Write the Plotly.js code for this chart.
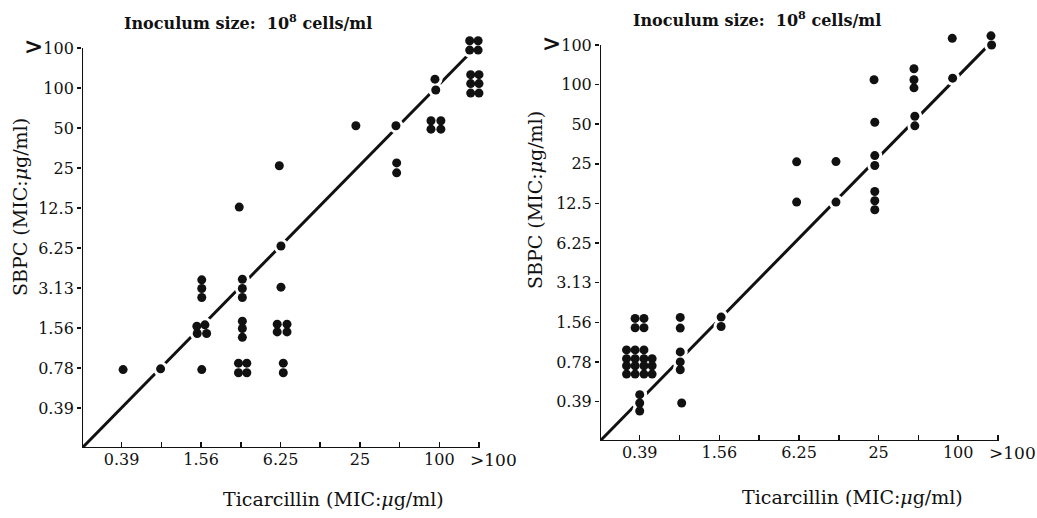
<!DOCTYPE html>
<html>
<head>
<meta charset="utf-8">
<script src="https://cdn.plot.ly/plotly-3.0.1.min.js"></script>
<style>html,body{margin:0;padding:0;background:#fff;}#chart{width:1037px;height:518px;}</style>
</head>
<body>
<div id="chart"></div>
<script>
// MIC dilution levels (µg/ml); 200 stands for ">100"
const levels = [0.39, 0.78, 1.56, 3.125, 6.25, 12.5, 25, 50, 100, 200];
const xLabelledLevels = [0.39, 1.56, 6.25, 25, 100];
const xTickLabels = ["0.39", "1.56", "6.25", "25", "100"];
const xUnlabelledLevels = [0.78, 3.125, 12.5, 50, 200];
const xOverLabel = ">100";
const yTickLabels = ["0.39", "0.78", "1.56", "3.13", "6.25", "12.5", "25", "50", "100", "<span style='font-size:23px'><b>></b></span>100"];
const axisMin = 0.1953;
const axisMax = 200;

// Left panel: each dot = one strain (Ticarcillin MIC, SBPC MIC), as plotted (clusters spread around a level)
const leftTicarcillin = [
  0.40, 0.77,
  1.58, 1.58, 1.58, 1.45, 1.67, 1.46, 1.72, 1.58,
  3.21, 3.21, 3.21, 3.21, 3.21, 3.21, 3.04, 3.0, 3.47, 3.0, 3.47,
  6.12, 6.3, 6.3, 5.9, 7.0, 5.9, 7.0, 6.56, 6.56,
  23.3, 46.9, 47.5, 47.5,
  92.7, 94.0, 86.5, 102.8, 86.5, 102.8,
  170, 197, 170, 197,
  173, 200, 173, 200, 173, 200
];
const leftSBPC = [
  0.76, 0.77,
  3.6, 3.1, 2.65, 1.61, 1.65, 1.42, 1.42, 0.76,
  3.64, 3.1, 2.65, 1.76, 1.55, 1.33, 12.7, 0.85, 0.85, 0.72, 0.72,
  26.0, 6.47, 3.17, 1.67, 1.67, 1.46, 1.46, 0.85, 0.72,
  52, 52, 27.3, 23.0,
  116.5, 96.6, 56.7, 56.7, 49.0, 49.0,
  227, 227, 193, 193,
  126, 126, 108, 108, 91.6, 91.6
];
const leftLineX = [0.1953, 180];
const leftLineY = [0.1953, 193];

// Right panel
const rightTicarcillin = [
  90.2, 177, 179, 90.8,
  46.3, 46.3, 46.3, 47, 47,
  23.1, 23.4, 23.4, 23.4, 23.4, 23.4, 23.4,
  6.0, 6.0, 11.9, 11.9,
  1.61, 1.61,
  0.79, 0.79, 0.79, 0.79, 0.79, 0.81,
  0.36, 0.42, 0.36, 0.42,
  0.31, 0.36, 0.42,
  0.31, 0.36, 0.42, 0.484,
  0.31, 0.36, 0.42, 0.484,
  0.31, 0.36, 0.42, 0.484,
  0.39, 0.39, 0.39
];
const rightSBPC = [
  225, 235, 200, 112,
  132, 109, 94.6, 57.5, 48.6,
  109, 51.8, 28.9, 24.3, 15.4, 13.1, 11.2,
  25.9, 12.8, 26.0, 12.8,
  1.71, 1.45,
  1.70, 1.41, 0.93, 0.78, 0.68, 0.38,
  1.67, 1.67, 1.42, 1.42,
  0.962, 0.962, 0.962,
  0.826, 0.826, 0.826, 0.826,
  0.729, 0.729, 0.729, 0.729,
  0.630, 0.630, 0.630, 0.630,
  0.44, 0.38, 0.33
];
const rightLineX = [0.1953, 164];
const rightLineY = [0.1953, 193];

const titleText = "Inoculum size:  10<sup>8</sup> cells/ml";
const yTitleText = "SBPC (MIC:<i>μ</i>g/ml)";
const xTitleText = "Ticarcillin (MIC:<i>μ</i>g/ml)";

const serif = "DejaVu Serif, Liberation Serif, serif";
const ink = "#111";

function panelTraces(xs, ys, lx, ly, xa, ya) {
  return [
    // axis lines (drawn as traces so they stop at the ">100" level)
    {x: [axisMin, axisMax], y: [axisMin, axisMin], xaxis: xa, yaxis: ya, mode: "lines", type: "scatter",
     line: {color: ink, width: 2}, hoverinfo: "skip", cliponaxis: false},
    {x: [axisMin, axisMin], y: [axisMin, axisMax], xaxis: xa, yaxis: ya, mode: "lines", type: "scatter",
     line: {color: ink, width: 2}, hoverinfo: "skip", cliponaxis: false},
    {x: lx, y: ly, xaxis: xa, yaxis: ya, mode: "lines", type: "scatter",
     line: {color: ink, width: 3}, hoverinfo: "skip", cliponaxis: false},
    {x: xs, y: ys, xaxis: xa, yaxis: ya, mode: "markers", type: "scatter",
     marker: {color: "#fff", size: 15}, hoverinfo: "skip", cliponaxis: false},
    {x: xs, y: ys, xaxis: xa, yaxis: ya, mode: "markers", type: "scatter",
     marker: {color: ink, size: 9}, cliponaxis: false}
  ];
}

const data = [].concat(
  panelTraces(leftTicarcillin, leftSBPC, leftLineX, leftLineY, "x", "y"),
  panelTraces(rightTicarcillin, rightSBPC, rightLineX, rightLineY, "x2", "y2")
);

// ranges extend a little past ">100" so that the off-scale dots stay visible
const lo = Math.log10(axisMin);
const xExt = 10.35, yExt = 10.4;
const xRange = [lo, lo + xExt * Math.log10(2)];
const yRange = [lo, lo + yExt * Math.log10(2)];

function xAxis(domain, anchor) {
  return {domain: domain, anchor: anchor, type: "log", range: xRange,
    tickvals: xLabelledLevels, ticktext: xTickLabels, tickangle: 0, ticks: "inside", ticklen: 6, tickwidth: 1.5,
    tickcolor: ink, showline: false, showgrid: false, zeroline: false,
    minor: {tickvals: xUnlabelledLevels, ticks: "inside", ticklen: 6, tickwidth: 1.5, tickcolor: ink, showgrid: false},
    tickfont: {family: serif, size: 16, color: ink}, fixedrange: true};
}
function yAxis(domain, anchor) {
  return {domain: domain, anchor: anchor, type: "log", range: yRange,
    tickvals: levels, ticktext: yTickLabels, ticks: "outside", ticklen: 4, tickwidth: 1.5,
    tickcolor: ink, showline: false, showgrid: false, zeroline: false,
    tickfont: {family: serif, size: 16, color: ink}, fixedrange: true};
}

function overLabel(xr, yr) {
  return {text: xOverLabel, xref: xr + " domain", yref: yr + " domain", x: 10 / xExt, y: 0,
    xanchor: "center", yanchor: "top", xshift: 15, yshift: 0, showarrow: false,
    font: {family: serif, size: 17, color: ink}};
}

const layout = {
  width: 1037, height: 518,
  margin: {l: 0, r: 0, t: 0, b: 0},
  paper_bgcolor: "#fff", plot_bgcolor: "rgba(0,0,0,0)",
  showlegend: false,
  xaxis: xAxis([0.0791, 0.4753], "y"),
  yaxis: yAxis([0.1351, 0.9382], "x"),
  xaxis2: xAxis([0.5786, 0.9758], "y2"),
  yaxis2: yAxis([0.1486, 0.9436], "x2"),
  annotations: [
    overLabel("x", "y"),
    overLabel("x2", "y2"),
    {text: titleText, xref: "paper", yref: "paper", x: 248/1037, y: 1 - 22/518, showarrow: false,
     xanchor: "center", yanchor: "middle", font: {family: serif, size: 16, color: ink, weight: "bold"}},
    {text: titleText, xref: "paper", yref: "paper", x: 757/1037, y: 1 - 19/518, showarrow: false,
     xanchor: "center", yanchor: "middle", font: {family: serif, size: 16, color: ink, weight: "bold"}},
    {text: yTitleText, xref: "paper", yref: "paper", x: 20/1037, y: 1 - 207/518, showarrow: false, textangle: -90,
     xanchor: "center", yanchor: "middle", font: {family: serif, size: 19, color: ink}},
    {text: yTitleText, xref: "paper", yref: "paper", x: 535/1037, y: 1 - 200/518, showarrow: false, textangle: -90,
     xanchor: "center", yanchor: "middle", font: {family: serif, size: 19, color: ink}},
    {text: xTitleText, xref: "paper", yref: "paper", x: 333/1037, y: 1 - 499/518, showarrow: false,
     xanchor: "center", yanchor: "middle", font: {family: serif, size: 19, color: ink}},
    {text: xTitleText, xref: "paper", yref: "paper", x: 852/1037, y: 1 - 497/518, showarrow: false,
     xanchor: "center", yanchor: "middle", font: {family: serif, size: 19, color: ink}}
  ]
};

Plotly.newPlot("chart", data, layout, {staticPlot: true, displayModeBar: false});
</script>
</body>
</html>
